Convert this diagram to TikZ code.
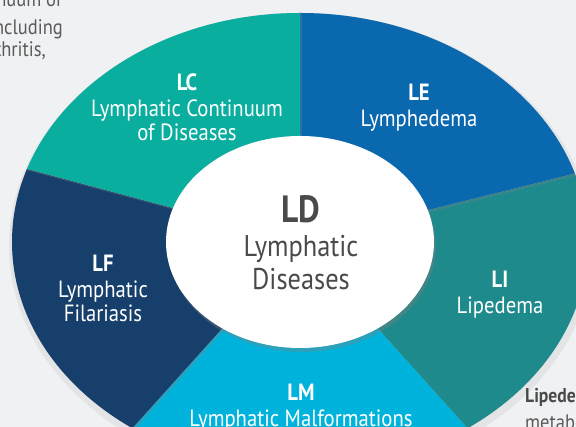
\documentclass[tikz,border=0pt]{standalone}
\usepackage{fontspec}
\setmainfont{PT Sans}[FakeStretch=0.88]
\usetikzlibrary{shadows,shapes.geometric}
\definecolor{bggray}{HTML}{F0F1F3}
\definecolor{lcgreen}{HTML}{0AAE9E}
\definecolor{leblue}{HTML}{0A68AF}
\definecolor{liteal}{HTML}{1F8A8C}
\definecolor{lmcyan}{HTML}{00B3DC}
\definecolor{lfnavy}{HTML}{173F6B}
\definecolor{ldgray}{HTML}{4A4A4A}
\definecolor{sidegray}{HTML}{5A5A5A}

\begin{document}
\begin{tikzpicture}[x=1pt, y=1pt,
                    sector/.style={drop shadow={shadow xshift=2pt, shadow yshift=-2pt, opacity=0.3}},
                    lbl/.style={anchor=north, inner sep=0pt, align=center, text=white,
                                font=\fontsize{23.5}{24}\selectfont},
                    side/.style={inner sep=0pt, text=sidegray, font=\fontsize{21}{21}\selectfont}]
                    % Background
                    \useasboundingbox (0,0) rectangle (576,427);
                    \fill[bggray] (0,0) rectangle (576,427);
                    \clip (0,0) rectangle (576,427);
                    \coordinate (c) at (300,185);
                    % Outer shadow
                    \fill[black, opacity=0.05] (301,181) ellipse [x radius=292, y radius=233];
                    % Sectors
                    \begin{scope}[shift={(c)}]
                        \clip (0,0) ellipse [x radius=288, y radius=229];
                        \fill[lmcyan] (0,0) -- (-132:800) -- (-48:800) -- cycle;
                        \fill[lfnavy, sector] (0,0) -- (165:800) -- (228:800) -- cycle;
                        \fill[liteal, sector] (0,0) -- (-48:800) -- (14:800) -- cycle;
                        \fill[leblue, sector] (0,0) -- (14:800) -- (90:800) -- cycle;
                        \fill[lcgreen, sector] (0,0) -- (90:800) -- (165:800) -- cycle;
                    \end{scope}
                    % Centre
                    \node[ellipse, fill=white, minimum width=268, minimum height=212, inner sep=0pt,
                          drop shadow={shadow xshift=2pt, shadow yshift=-4pt, opacity=0.35}] (ld) at (c) {};
                    \node[anchor=north, inner sep=0pt, align=center, text=ldgray,
                          font=\fontsize{30}{33}\selectfont] (ldtext) at (301,232)
                          {{\fontsize{38}{38}\selectfont\bfseries LD}\\[1pt]Lymphatic\\Diseases};
                    % Labels
                    \node[lbl] (lc) at (187,353.5) {\textbf{LC}\\[2pt]Lymphatic Continuum\\of Diseases};
                    \node[lbl] (le) at (419,343.2) {\textbf{LE}\\[2pt]Lymphedema};
                    \node[lbl] (li) at (500,156) {\textbf{LI}\\[2pt]Lipedema};
                    \node[lbl] (lm) at (301,43.5) {\textbf{LM}\\[2pt]Lymphatic Malformations};
                    \node[lbl] (lf) at (103,172) {\textbf{LF}\\[2pt]Lymphatic\\Filariasis};
                    % Side text
                    \node[side, anchor=base east] (t1) at (62,420) {nuum of};
                    \node[side, anchor=base east] (t2) at (63,392) {ncluding};
                    \node[side, anchor=base east] (t3) at (46,370) {thritis,};
                    \node[side, anchor=base west, text=ldgray,
                          font=\fontsize{20}{20}\selectfont\bfseries] (t4) at (525,24) {Lipeder};
                    \node[side, anchor=base west] (t5) at (525,-3) {metabo};
                \end{tikzpicture}
\end{document}
